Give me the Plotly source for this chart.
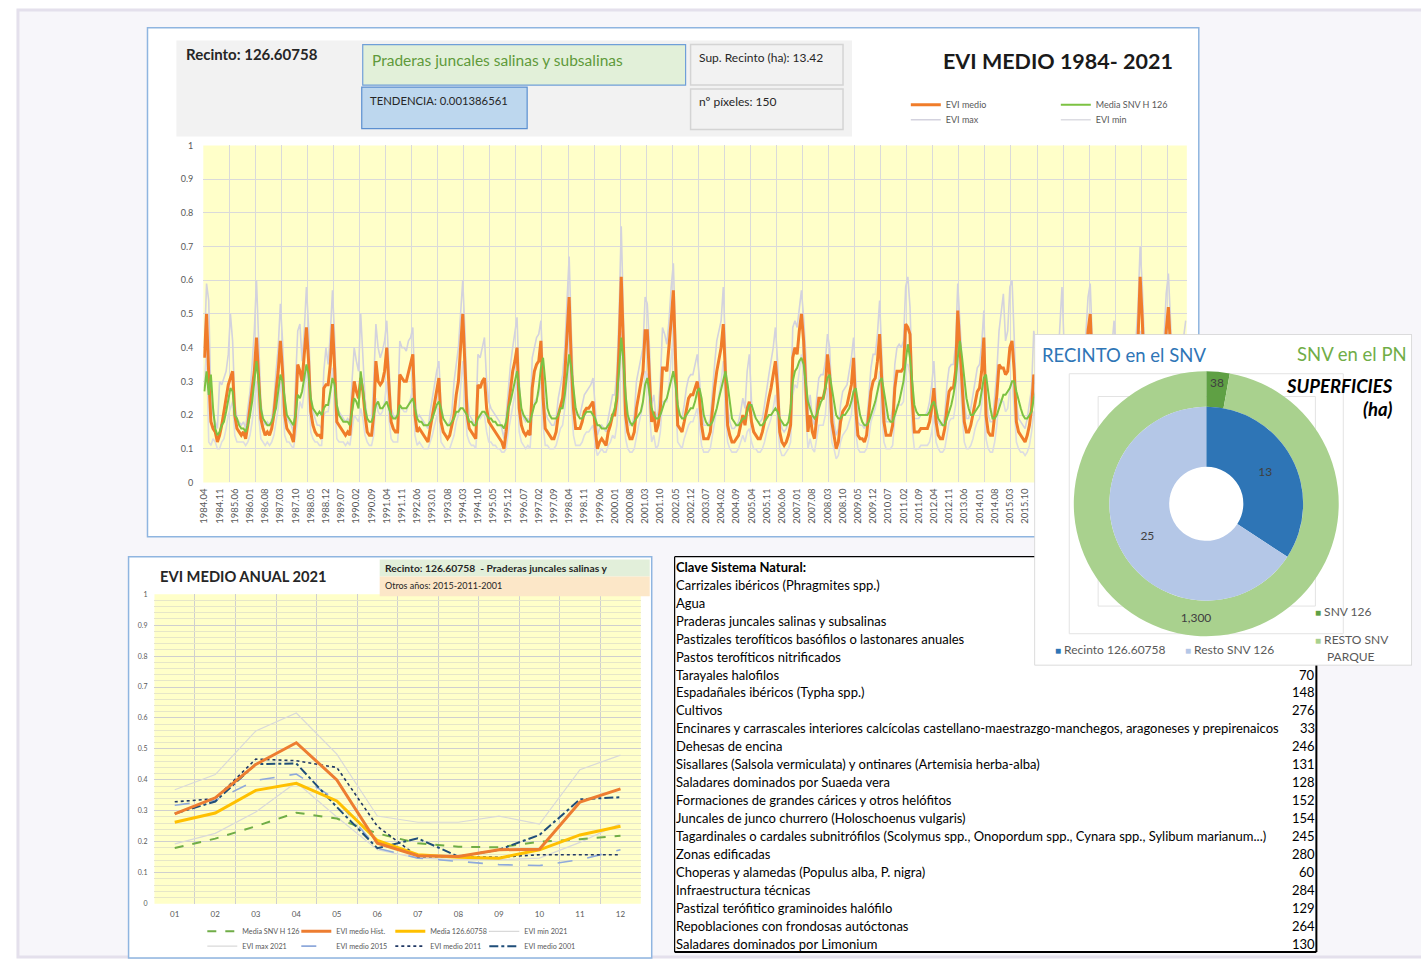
import plotly.graph_objects as go

# ======================= DATA =======================
# Monthly series 1984.04 .. 2021.12 (one row per year, Jan..Dec; 1984 starts in April)
evi_medio = [
    0.37, 0.50, 0.32, 0.18, 0.16, 0.15, 0.12, 0.14, 0.17,
    0.21, 0.25, 0.29, 0.31, 0.33, 0.20, 0.16, 0.15, 0.14, 0.15, 0.13, 0.17,
    0.22, 0.27, 0.33, 0.43, 0.30, 0.19, 0.16, 0.14, 0.15, 0.14, 0.16, 0.20,
    0.27, 0.33, 0.42, 0.33, 0.20, 0.16, 0.15, 0.14, 0.12, 0.20, 0.35, 0.33,
    0.30, 0.37, 0.46, 0.36, 0.21, 0.17, 0.15, 0.14, 0.14, 0.13, 0.28, 0.29,
    0.29, 0.35, 0.47, 0.34, 0.18, 0.17, 0.16, 0.15, 0.14, 0.15, 0.14, 0.23,
    0.30, 0.27, 0.25, 0.31, 0.27, 0.20, 0.15, 0.14, 0.14, 0.20, 0.36, 0.30,
    0.29, 0.30, 0.33, 0.40, 0.28, 0.18, 0.16, 0.15, 0.15, 0.32, 0.31, 0.30,
    0.30, 0.33, 0.35, 0.38, 0.20, 0.15, 0.16, 0.15, 0.14, 0.13, 0.12, 0.16,
    0.20, 0.24, 0.28, 0.31, 0.18, 0.15, 0.14, 0.13, 0.14, 0.17, 0.20, 0.26,
    0.30, 0.40, 0.50, 0.35, 0.20, 0.16, 0.15, 0.14, 0.13, 0.29, 0.28, 0.30,
    0.31, 0.22, 0.18, 0.17, 0.16, 0.15, 0.14, 0.13, 0.12, 0.10, 0.15, 0.22,
    0.28, 0.33, 0.36, 0.40, 0.22, 0.17, 0.15, 0.14, 0.15, 0.14, 0.28, 0.33,
    0.35, 0.36, 0.42, 0.25, 0.16, 0.15, 0.14, 0.13, 0.13, 0.15, 0.20, 0.23,
    0.25, 0.32, 0.42, 0.55, 0.35, 0.22, 0.16, 0.16, 0.16, 0.18, 0.21, 0.22,
    0.22, 0.23, 0.24, 0.16, 0.10, 0.12, 0.13, 0.12, 0.11, 0.15, 0.17, 0.20,
    0.20, 0.25, 0.40, 0.61, 0.38, 0.20, 0.15, 0.13, 0.13, 0.15, 0.22, 0.26,
    0.29, 0.33, 0.45, 0.45, 0.31, 0.18, 0.21, 0.15, 0.17, 0.22, 0.34, 0.34,
    0.33, 0.40, 0.48, 0.57, 0.35, 0.17, 0.16, 0.15, 0.18, 0.22, 0.25, 0.26,
    0.26, 0.28, 0.30, 0.25, 0.17, 0.13, 0.13, 0.13, 0.15, 0.22, 0.28, 0.33,
    0.36, 0.40, 0.47, 0.30, 0.17, 0.14, 0.12, 0.12, 0.13, 0.14, 0.17, 0.20,
    0.17, 0.22, 0.24, 0.18, 0.15, 0.14, 0.13, 0.13, 0.15, 0.18, 0.22, 0.25,
    0.28, 0.32, 0.36, 0.28, 0.15, 0.12, 0.11, 0.12, 0.14, 0.17, 0.37, 0.40,
    0.38, 0.45, 0.50, 0.42, 0.30, 0.15, 0.20, 0.15, 0.13, 0.20, 0.25, 0.25,
    0.25, 0.28, 0.38, 0.32, 0.18, 0.14, 0.10, 0.12, 0.18, 0.21, 0.22, 0.23,
    0.26, 0.29, 0.37, 0.22, 0.14, 0.13, 0.13, 0.12, 0.14, 0.20, 0.27, 0.30,
    0.31, 0.36, 0.44, 0.30, 0.18, 0.14, 0.14, 0.14, 0.17, 0.28, 0.33, 0.33,
    0.33, 0.34, 0.47, 0.46, 0.44, 0.25, 0.15, 0.15, 0.15, 0.16, 0.16, 0.16,
    0.16, 0.18, 0.22, 0.28, 0.18, 0.14, 0.13, 0.13, 0.16, 0.22, 0.27, 0.28,
    0.28, 0.33, 0.51, 0.40, 0.30, 0.18, 0.15, 0.15, 0.17, 0.20, 0.24, 0.27,
    0.28, 0.33, 0.43, 0.20, 0.15, 0.14, 0.14, 0.20, 0.26, 0.35, 0.34, 0.34,
    0.32, 0.33, 0.40, 0.42, 0.33, 0.18, 0.15, 0.14, 0.13, 0.12, 0.14, 0.17,
    0.22, 0.32, 0.30, 0.26, 0.16, 0.13, 0.12, 0.12, 0.13, 0.15, 0.18, 0.22,
    0.26, 0.32, 0.40, 0.30, 0.18, 0.14, 0.13, 0.13, 0.14, 0.16, 0.20, 0.25,
    0.28, 0.35, 0.45, 0.50, 0.32, 0.18, 0.14, 0.13, 0.13, 0.15, 0.19, 0.23,
    0.25, 0.30, 0.38, 0.28, 0.17, 0.14, 0.13, 0.13, 0.14, 0.16, 0.21, 0.27,
    0.33, 0.42, 0.61, 0.48, 0.30, 0.17, 0.14, 0.13, 0.14, 0.16, 0.22, 0.26,
    0.29, 0.34, 0.45, 0.52, 0.40, 0.20, 0.16, 0.15, 0.17, 0.18, 0.33, 0.37,
]

evi_max = [
    0.40, 0.59, 0.54, 0.24, 0.20, 0.18, 0.16, 0.30, 0.29,
    0.31, 0.33, 0.38, 0.50, 0.42, 0.24, 0.19, 0.18, 0.17, 0.18, 0.16, 0.22,
    0.27, 0.35, 0.45, 0.60, 0.40, 0.24, 0.19, 0.17, 0.18, 0.17, 0.19, 0.24,
    0.33, 0.40, 0.53, 0.42, 0.25, 0.19, 0.18, 0.17, 0.15, 0.30, 0.45, 0.47,
    0.36, 0.45, 0.58, 0.46, 0.26, 0.21, 0.19, 0.17, 0.17, 0.16, 0.33, 0.40,
    0.35, 0.44, 0.57, 0.43, 0.23, 0.21, 0.20, 0.19, 0.18, 0.19, 0.18, 0.30,
    0.40, 0.36, 0.33, 0.50, 0.38, 0.25, 0.19, 0.18, 0.18, 0.30, 0.47, 0.40,
    0.37, 0.39, 0.42, 0.48, 0.35, 0.22, 0.20, 0.19, 0.20, 0.42, 0.40, 0.40,
    0.39, 0.42, 0.43, 0.46, 0.26, 0.19, 0.20, 0.19, 0.18, 0.17, 0.16, 0.21,
    0.25, 0.30, 0.33, 0.36, 0.23, 0.19, 0.18, 0.17, 0.18, 0.21, 0.30, 0.36,
    0.40, 0.50, 0.60, 0.45, 0.26, 0.20, 0.19, 0.18, 0.17, 0.38, 0.37, 0.40,
    0.43, 0.30, 0.24, 0.22, 0.21, 0.20, 0.19, 0.18, 0.16, 0.13, 0.20, 0.29,
    0.35, 0.40, 0.45, 0.49, 0.30, 0.21, 0.19, 0.18, 0.19, 0.18, 0.37, 0.40,
    0.43, 0.44, 0.48, 0.33, 0.21, 0.19, 0.18, 0.17, 0.17, 0.19, 0.25, 0.29,
    0.32, 0.40, 0.52, 0.67, 0.45, 0.28, 0.20, 0.20, 0.20, 0.23, 0.26, 0.27,
    0.28, 0.29, 0.31, 0.22, 0.14, 0.16, 0.17, 0.16, 0.15, 0.19, 0.22, 0.26,
    0.26, 0.33, 0.50, 0.76, 0.50, 0.27, 0.19, 0.17, 0.17, 0.20, 0.30, 0.33,
    0.36, 0.40, 0.55, 0.53, 0.40, 0.23, 0.26, 0.19, 0.21, 0.30, 0.46, 0.44,
    0.41, 0.48, 0.58, 0.65, 0.44, 0.22, 0.20, 0.19, 0.23, 0.28, 0.31, 0.32,
    0.32, 0.35, 0.38, 0.31, 0.22, 0.17, 0.17, 0.17, 0.19, 0.28, 0.35, 0.42,
    0.45, 0.48, 0.58, 0.38, 0.22, 0.18, 0.16, 0.16, 0.17, 0.18, 0.21, 0.25,
    0.22, 0.33, 0.38, 0.24, 0.20, 0.19, 0.18, 0.18, 0.19, 0.23, 0.28, 0.32,
    0.36, 0.40, 0.46, 0.36, 0.20, 0.16, 0.15, 0.16, 0.18, 0.22, 0.46, 0.48,
    0.46, 0.52, 0.57, 0.49, 0.38, 0.20, 0.26, 0.19, 0.17, 0.25, 0.31, 0.32,
    0.32, 0.36, 0.44, 0.40, 0.24, 0.18, 0.14, 0.16, 0.23, 0.27, 0.28, 0.29,
    0.33, 0.37, 0.43, 0.29, 0.18, 0.17, 0.17, 0.16, 0.18, 0.25, 0.34, 0.38,
    0.38, 0.44, 0.54, 0.38, 0.24, 0.18, 0.18, 0.18, 0.22, 0.35, 0.40, 0.41,
    0.40, 0.42, 0.58, 0.61, 0.52, 0.31, 0.19, 0.19, 0.19, 0.20, 0.20, 0.20,
    0.21, 0.24, 0.29, 0.36, 0.24, 0.18, 0.17, 0.17, 0.20, 0.29, 0.34, 0.35,
    0.35, 0.41, 0.59, 0.48, 0.38, 0.24, 0.19, 0.19, 0.22, 0.26, 0.31, 0.34,
    0.35, 0.41, 0.51, 0.27, 0.20, 0.18, 0.18, 0.26, 0.33, 0.45, 0.50, 0.56,
    0.42, 0.45, 0.58, 0.60, 0.43, 0.24, 0.19, 0.18, 0.17, 0.16, 0.19, 0.23,
    0.28, 0.45, 0.40, 0.33, 0.21, 0.17, 0.16, 0.16, 0.17, 0.19, 0.23, 0.28,
    0.34, 0.45, 0.58, 0.40, 0.24, 0.18, 0.17, 0.17, 0.18, 0.21, 0.26, 0.32,
    0.36, 0.44, 0.55, 0.59, 0.40, 0.24, 0.18, 0.17, 0.17, 0.20, 0.25, 0.30,
    0.33, 0.40, 0.48, 0.37, 0.23, 0.18, 0.17, 0.17, 0.18, 0.21, 0.28, 0.36,
    0.42, 0.52, 0.70, 0.58, 0.40, 0.23, 0.18, 0.17, 0.18, 0.21, 0.29, 0.34,
    0.37, 0.42, 0.56, 0.62, 0.48, 0.28, 0.26, 0.26, 0.28, 0.26, 0.43, 0.48,
]

evi_min = [
    0.28, 0.40, 0.12, 0.11, 0.13, 0.12, 0.10, 0.10, 0.12,
    0.13, 0.16, 0.20, 0.22, 0.24, 0.14, 0.12, 0.12, 0.12, 0.12, 0.11, 0.12,
    0.14, 0.18, 0.24, 0.30, 0.20, 0.13, 0.12, 0.11, 0.12, 0.11, 0.12, 0.14,
    0.18, 0.22, 0.30, 0.24, 0.14, 0.12, 0.12, 0.11, 0.10, 0.14, 0.20, 0.24,
    0.22, 0.27, 0.34, 0.26, 0.15, 0.13, 0.12, 0.12, 0.11, 0.11, 0.20, 0.21,
    0.21, 0.25, 0.34, 0.24, 0.13, 0.12, 0.12, 0.12, 0.11, 0.12, 0.11, 0.15,
    0.20, 0.19, 0.18, 0.22, 0.19, 0.14, 0.12, 0.11, 0.11, 0.14, 0.25, 0.21,
    0.20, 0.21, 0.24, 0.30, 0.19, 0.13, 0.12, 0.12, 0.12, 0.22, 0.22, 0.21,
    0.21, 0.23, 0.25, 0.28, 0.14, 0.11, 0.12, 0.11, 0.10, 0.10, 0.10, 0.12,
    0.14, 0.17, 0.20, 0.22, 0.12, 0.11, 0.10, 0.10, 0.10, 0.12, 0.14, 0.18,
    0.20, 0.28, 0.36, 0.24, 0.14, 0.12, 0.11, 0.11, 0.10, 0.20, 0.19, 0.20,
    0.20, 0.15, 0.12, 0.12, 0.11, 0.11, 0.10, 0.10, 0.09, 0.09, 0.10, 0.15,
    0.19, 0.23, 0.26, 0.30, 0.15, 0.12, 0.11, 0.10, 0.11, 0.10, 0.20, 0.24,
    0.25, 0.26, 0.31, 0.17, 0.11, 0.11, 0.10, 0.10, 0.10, 0.11, 0.14, 0.16,
    0.17, 0.22, 0.30, 0.40, 0.24, 0.14, 0.11, 0.11, 0.11, 0.12, 0.14, 0.15,
    0.15, 0.16, 0.17, 0.11, 0.08, 0.09, 0.10, 0.09, 0.09, 0.11, 0.12, 0.14,
    0.13, 0.17, 0.28, 0.45, 0.25, 0.13, 0.10, 0.09, 0.09, 0.10, 0.14, 0.17,
    0.20, 0.23, 0.33, 0.32, 0.21, 0.12, 0.14, 0.10, 0.11, 0.15, 0.24, 0.24,
    0.24, 0.29, 0.36, 0.45, 0.25, 0.12, 0.11, 0.10, 0.13, 0.15, 0.17, 0.18,
    0.18, 0.20, 0.22, 0.17, 0.11, 0.09, 0.09, 0.09, 0.10, 0.14, 0.19, 0.23,
    0.26, 0.30, 0.36, 0.21, 0.12, 0.10, 0.09, 0.09, 0.09, 0.10, 0.12, 0.14,
    0.12, 0.15, 0.16, 0.12, 0.10, 0.10, 0.09, 0.09, 0.10, 0.12, 0.15, 0.17,
    0.19, 0.22, 0.26, 0.19, 0.10, 0.08, 0.08, 0.09, 0.10, 0.12, 0.26, 0.29,
    0.28, 0.33, 0.38, 0.31, 0.20, 0.10, 0.13, 0.10, 0.09, 0.13, 0.17, 0.17,
    0.17, 0.20, 0.28, 0.23, 0.12, 0.10, 0.07, 0.08, 0.12, 0.14, 0.15, 0.16,
    0.18, 0.20, 0.28, 0.15, 0.10, 0.09, 0.09, 0.09, 0.10, 0.13, 0.18, 0.20,
    0.22, 0.26, 0.33, 0.21, 0.12, 0.10, 0.10, 0.10, 0.11, 0.19, 0.23, 0.23,
    0.23, 0.24, 0.35, 0.35, 0.32, 0.16, 0.10, 0.10, 0.10, 0.11, 0.11, 0.11,
    0.11, 0.12, 0.15, 0.20, 0.12, 0.10, 0.09, 0.09, 0.10, 0.14, 0.18, 0.19,
    0.19, 0.23, 0.39, 0.30, 0.20, 0.12, 0.10, 0.10, 0.11, 0.13, 0.16, 0.18,
    0.19, 0.23, 0.31, 0.13, 0.10, 0.09, 0.09, 0.12, 0.17, 0.25, 0.24, 0.24,
    0.21, 0.22, 0.28, 0.30, 0.22, 0.12, 0.10, 0.09, 0.09, 0.08, 0.09, 0.11,
    0.15, 0.21, 0.20, 0.17, 0.10, 0.09, 0.08, 0.08, 0.09, 0.10, 0.12, 0.14,
    0.17, 0.21, 0.27, 0.20, 0.11, 0.09, 0.09, 0.09, 0.09, 0.11, 0.13, 0.16,
    0.18, 0.23, 0.31, 0.36, 0.21, 0.12, 0.10, 0.09, 0.09, 0.10, 0.12, 0.15,
    0.16, 0.20, 0.26, 0.18, 0.11, 0.09, 0.09, 0.09, 0.09, 0.11, 0.13, 0.17,
    0.22, 0.29, 0.45, 0.33, 0.19, 0.11, 0.09, 0.09, 0.09, 0.10, 0.14, 0.17,
    0.19, 0.23, 0.30, 0.39, 0.28, 0.17, 0.15, 0.14, 0.15, 0.15, 0.21, 0.26,
]

media_snv = [
    0.27, 0.33, 0.26, 0.32, 0.22, 0.16, 0.14, 0.15, 0.17,
    0.18, 0.21, 0.25, 0.28, 0.27, 0.20, 0.19, 0.17, 0.16, 0.16, 0.15, 0.17,
    0.20, 0.24, 0.30, 0.36, 0.30, 0.22, 0.19, 0.18, 0.17, 0.17, 0.18, 0.20,
    0.22, 0.27, 0.32, 0.30, 0.24, 0.20, 0.19, 0.18, 0.17, 0.20, 0.26, 0.25,
    0.27, 0.31, 0.35, 0.32, 0.25, 0.22, 0.21, 0.20, 0.21, 0.20, 0.22, 0.23,
    0.23, 0.27, 0.31, 0.29, 0.23, 0.20, 0.19, 0.18, 0.18, 0.18, 0.17, 0.21,
    0.25, 0.24, 0.22, 0.33, 0.28, 0.22, 0.19, 0.18, 0.18, 0.20, 0.23, 0.24,
    0.22, 0.22, 0.23, 0.24, 0.22, 0.20, 0.19, 0.19, 0.20, 0.23, 0.22, 0.22,
    0.22, 0.23, 0.24, 0.25, 0.22, 0.19, 0.18, 0.18, 0.17, 0.17, 0.17, 0.18,
    0.19, 0.21, 0.23, 0.24, 0.22, 0.19, 0.18, 0.17, 0.17, 0.18, 0.19, 0.21,
    0.21, 0.22, 0.22, 0.21, 0.20, 0.18, 0.18, 0.17, 0.17, 0.19, 0.20, 0.21,
    0.21, 0.20, 0.19, 0.19, 0.18, 0.18, 0.17, 0.17, 0.17, 0.16, 0.18, 0.22,
    0.24, 0.27, 0.30, 0.33, 0.28, 0.22, 0.20, 0.19, 0.18, 0.18, 0.21, 0.23,
    0.24, 0.28, 0.34, 0.37, 0.30, 0.22, 0.20, 0.19, 0.19, 0.19, 0.20, 0.22,
    0.22, 0.26, 0.32, 0.38, 0.34, 0.27, 0.22, 0.20, 0.19, 0.19, 0.20, 0.21,
    0.21, 0.21, 0.20, 0.19, 0.17, 0.17, 0.16, 0.16, 0.16, 0.17, 0.18, 0.20,
    0.22, 0.26, 0.33, 0.43, 0.36, 0.26, 0.20, 0.18, 0.17, 0.18, 0.19, 0.20,
    0.21, 0.24, 0.29, 0.31, 0.27, 0.22, 0.20, 0.19, 0.19, 0.20, 0.22, 0.24,
    0.25, 0.28, 0.31, 0.33, 0.29, 0.23, 0.20, 0.19, 0.19, 0.20, 0.21, 0.22,
    0.22, 0.24, 0.27, 0.28, 0.25, 0.20, 0.18, 0.17, 0.17, 0.18, 0.20, 0.22,
    0.25, 0.28, 0.31, 0.33, 0.29, 0.23, 0.19, 0.18, 0.17, 0.17, 0.18, 0.19,
    0.19, 0.21, 0.23, 0.23, 0.21, 0.19, 0.18, 0.17, 0.17, 0.18, 0.19, 0.20,
    0.20, 0.21, 0.22, 0.21, 0.19, 0.18, 0.17, 0.17, 0.18, 0.22, 0.30, 0.33,
    0.34, 0.36, 0.37, 0.35, 0.30, 0.24, 0.22, 0.20, 0.19, 0.20, 0.22, 0.24,
    0.25, 0.28, 0.31, 0.32, 0.28, 0.23, 0.20, 0.19, 0.19, 0.20, 0.20, 0.21,
    0.22, 0.24, 0.27, 0.28, 0.24, 0.20, 0.18, 0.17, 0.17, 0.18, 0.20, 0.22,
    0.24, 0.27, 0.30, 0.31, 0.27, 0.22, 0.19, 0.18, 0.18, 0.20, 0.22, 0.24,
    0.27, 0.30, 0.36, 0.41, 0.37, 0.29, 0.23, 0.21, 0.20, 0.20, 0.20, 0.20,
    0.20, 0.21, 0.23, 0.24, 0.22, 0.19, 0.18, 0.17, 0.17, 0.19, 0.21, 0.23,
    0.26, 0.30, 0.37, 0.42, 0.37, 0.30, 0.25, 0.22, 0.20, 0.20, 0.21, 0.22,
    0.23, 0.27, 0.31, 0.32, 0.27, 0.22, 0.19, 0.19, 0.20, 0.22, 0.24, 0.26,
    0.26, 0.27, 0.28, 0.30, 0.30, 0.27, 0.24, 0.22, 0.20, 0.19, 0.19, 0.20,
    0.21, 0.25, 0.27, 0.26, 0.23, 0.20, 0.18, 0.17, 0.17, 0.18, 0.19, 0.20,
    0.22, 0.25, 0.29, 0.31, 0.27, 0.22, 0.19, 0.18, 0.17, 0.18, 0.19, 0.21,
    0.23, 0.27, 0.32, 0.35, 0.31, 0.25, 0.21, 0.19, 0.18, 0.18, 0.19, 0.21,
    0.22, 0.25, 0.28, 0.29, 0.26, 0.21, 0.19, 0.18, 0.17, 0.18, 0.20, 0.22,
    0.25, 0.29, 0.36, 0.40, 0.35, 0.27, 0.22, 0.20, 0.19, 0.19, 0.20, 0.21,
    0.18, 0.21, 0.25, 0.29, 0.28, 0.23, 0.20, 0.18, 0.18, 0.20, 0.21, 0.22,
]

# Annual chart 2021
months = ["01", "02", "03", "04", "05", "06", "07", "08", "09", "10", "11", "12"]
a_media_snv = [0.18, 0.21, 0.25, 0.294, 0.275, 0.227, 0.195, 0.184, 0.182, 0.20, 0.208, 0.219]
a_evi_hist = [0.29, 0.342, 0.45, 0.52, 0.40, 0.195, 0.155, 0.152, 0.174, 0.176, 0.328, 0.371]
a_media_recinto = [0.263, 0.293, 0.366, 0.389, 0.332, 0.204, 0.158, 0.150, 0.147, 0.174, 0.222, 0.25]
a_min_2021 = [0.193, 0.227, 0.296, 0.392, 0.28, 0.174, 0.147, 0.142, 0.142, 0.147, 0.198, 0.259]
a_max_2021 = [0.368, 0.417, 0.558, 0.616, 0.483, 0.283, 0.263, 0.263, 0.283, 0.257, 0.433, 0.48]
a_evi_2015 = [0.318, 0.334, 0.398, 0.419, 0.334, 0.179, 0.147, 0.136, 0.126, 0.123, 0.142, 0.174]
a_evi_2011 = [0.329, 0.339, 0.467, 0.462, 0.44, 0.25, 0.152, 0.150, 0.150, 0.158, 0.158, 0.158]
a_evi_2001 = [0.291, 0.33, 0.451, 0.453, 0.312, 0.179, 0.211, 0.152, 0.174, 0.222, 0.337, 0.344]

# Donut (ha)
inner_labels = ["Recinto 126.60758", "Resto SNV 126"]
inner_values = [13, 25]
outer_labels = ["SNV 126", "RESTO SNV PARQUE"]
outer_values = [38, 1300]

# Table
table_names = [
    "Carrizales ibéricos (Phragmites spp.)",
    "Agua",
    "Praderas juncales salinas y subsalinas",
    "Pastizales terofíticos basófilos o lastonares anuales",
    "Pastos terofíticos nitrificados",
    "Tarayales halofilos",
    "Espadañales ibéricos (Typha spp.)",
    "Cultivos",
    "Encinares y carrascales interiores calcícolas castellano-maestrazgo-manchegos, aragoneses y prepirenaicos",
    "Dehesas de encina",
    "Sisallares (Salsola vermiculata) y ontinares (Artemisia herba-alba)",
    "Saladares dominados por Suaeda vera",
    "Formaciones de grandes cárices y otros helófitos",
    "Juncales de junco churrero (Holoschoenus vulgaris)",
    "Tagardinales o cardales subnitrófilos (Scolymus spp., Onopordum spp., Cynara spp., Sylibum marianum...)",
    "Zonas edificadas",
    "Choperas y alamedas (Populus alba, P. nigra)",
    "Infraestructura técnicas",
    "Pastizal terófitico graminoides halófilo",
    "Repoblaciones con frondosas autóctonas",
    "Saladares dominados por Limonium",
]
table_values = [None, None, None, None, None,
                70, 148, 276, 33, 246, 131, 128, 152, 154, 245, 280, 60, 284, 129, 264, 130]

# period labels
periods = [f"{y}.{m:02d}" for y in range(1984, 2022) for m in range(1, 13) if (y, m) >= (1984, 4)]
assert len(periods) == len(evi_medio) == len(evi_max) == len(evi_min) == len(media_snv)

# ======================= LAYOUT HELPERS =======================
W, H = 1421, 963
FONT = "Lato, 'Open Sans', sans-serif"
YELLOW = "#FFFFC9"
GRID = "#DADADA"


def fx(x):
    return x / W


def fy(y):
    return 1 - y / H


shapes = []
annotations = []


def rect(x0, y0, x1, y1, fill="rgba(0,0,0,0)", line="rgba(0,0,0,0)", lw=1, layer="below"):
    shapes.append(dict(type="rect", xref="paper", yref="paper", x0=fx(x0), x1=fx(x1),
                       y0=fy(y1), y1=fy(y0), fillcolor=fill, line=dict(color=line, width=lw), layer=layer))


def hline(x0, x1, y, color="#000", lw=1, layer="below"):
    shapes.append(dict(type="line", xref="paper", yref="paper", x0=fx(x0), x1=fx(x1),
                       y0=fy(y), y1=fy(y), line=dict(color=color, width=lw), layer=layer))


def vline(x, y0, y1, color="#000", lw=1, layer="below"):
    shapes.append(dict(type="line", xref="paper", yref="paper", x0=fx(x), x1=fx(x),
                       y0=fy(y0), y1=fy(y1), line=dict(color=color, width=lw), layer=layer))


def text(x, y, s, size, color="#262626", anchor="left"):
    annotations.append(dict(x=fx(x), y=fy(y), xref="paper", yref="paper", text=s, showarrow=False,
                            xanchor=anchor, yanchor="middle", font=dict(family=FONT, size=size, color=color)))


# plot-area rectangles
TOP_PLOT = (199, 141, 1186, 482)
ANN_PLOT = (150, 595, 638, 908)

# background frame
rect(13, 4, 1425, 962, fill="#F7F6FA", line="#E4E0EC", lw=3)
# top panel
rect(143, 22, 1198, 537, fill="white", line="#8FB5E0", lw=1.5)
rect(*TOP_PLOT, fill=YELLOW)
# header
rect(172, 35, 850, 132, fill="#F2F2F2")
rect(359, 39, 683, 80, fill="#E2F0D9", line="#6F9FD8", lw=1.2)
rect(358, 82, 524, 124, fill="#BDD7EE", line="#5B8FD0", lw=1.2)
rect(688, 39, 841, 80, fill="#F2F2F2", line="#D4D4D4", lw=1.5)
rect(688, 84, 841, 125, fill="#F2F2F2", line="#D4D4D4", lw=1.5)
# bottom-left panel
rect(124, 557, 649, 963, fill="white", line="#8FB5E0", lw=1.5)
rect(*ANN_PLOT, fill=YELLOW)
rect(376, 560, 647, 577, fill="#E2EFDA", layer="above")
rect(376, 577, 647, 597, fill="#FCE7C8", layer="above")
# table
rect(672, 557, 1316, 957, fill="white")
vline(672, 557, 957, lw=1.2)
hline(672, 1060, 557, lw=1.2)
vline(1316, 557, 957, lw=2)
hline(672, 1316, 957, lw=2)

# header texts
text(180, 49, "<b>Recinto: 126.60758</b>", 15)
text(366, 55, "Praderas juncales salinas y subsalinas", 15.5, color="#5F9A3B")
text(364, 96, "TENDENCIA: 0.001386561", 11.3)
text(694, 52, "Sup. Recinto (ha): 13.42", 12)
text(694, 97, "nº píxeles: 150", 12)
text(939, 56, "<b>EVI MEDIO 1984- 2021</b>", 21.5, color="#1A1A1A")

# bottom-left texts
text(154, 577, "<b>EVI MEDIO ANUAL 2021</b>", 14.7)
text(379, 568, "<b>Recinto: 126.60758  - Praderas juncales salinas y</b>", 10.3)
text(379, 586, "Otros años: 2015-2011-2001", 9)

# table texts
TFS = 13
text(671, 567, "<b>Clave Sistema Natural:</b>", TFS, color="#000")
for i, (nm, val) in enumerate(zip(table_names, table_values)):
    yy = 585.5 + 18.15 * i
    text(671, yy, nm, TFS, color="#000")
    if val is not None:
        text(1317, yy, str(val), TFS, color="#000", anchor="right")

# donut panel texts
text(1039, 353, "RECINTO en el SNV", 18.5, color="#2E75B6")
text(1409, 352, "SNV en el PN", 18.5, color="#70AD47", anchor="right")
text(1395, 384, "<b><i>SUPERFICIES</i></b>", 18.5, color="#000", anchor="right")
text(1395, 408, "<b><i>(ha)</i></b>", 18.5, color="#000", anchor="right")
INNER_COLORS = ["#2E75B6", "#B4C7E7"]
OUTER_COLORS = ["#5FA044", "#A9D18E"]
text(1052, 651, f"<span style='color:{INNER_COLORS[0]};font-size:10px'>■</span> {inner_labels[0]}", 12, color="#595959")
text(1182, 651, f"<span style='color:{INNER_COLORS[1]};font-size:10px'>■</span> {inner_labels[1]}", 12, color="#595959")
text(1313, 613, f"<span style='color:{OUTER_COLORS[0]};font-size:10px'>■</span> {outer_labels[0]}", 12, color="#595959")
text(1313, 641, f"<span style='color:{OUTER_COLORS[1]};font-size:10px'>■</span> RESTO SNV", 12, color="#595959")
text(1325, 658, "PARQUE", 12, color="#595959")

# ======================= FIGURE =======================
fig = go.Figure()
xi = list(range(len(periods)))
GRAYL = "#D3D2DE"

fig.add_trace(go.Scatter(x=xi, y=evi_max, name="EVI max", mode="lines", customdata=periods,
                         line=dict(color=GRAYL, width=1.6), legend="legend3", xaxis="x", yaxis="y"))
fig.add_trace(go.Scatter(x=xi, y=evi_min, name="EVI min", mode="lines", customdata=periods,
                         line=dict(color="#DCDCE2", width=1.6), legend="legend3", xaxis="x", yaxis="y"))
fig.add_trace(go.Scatter(x=xi, y=evi_medio, name="EVI medio", mode="lines", customdata=periods,
                         line=dict(color="#F07C2A", width=3), legend="legend", xaxis="x", yaxis="y"))
fig.add_trace(go.Scatter(x=xi, y=media_snv, name="Media SNV H 126", mode="lines", customdata=periods,
                         line=dict(color="#7CC242", width=2), legend="legend", xaxis="x", yaxis="y"))

# annual chart
mi = list(range(12))
ann = [
    ("EVI min 2021", a_min_2021, dict(color="#D9D9D9", width=1.2), "legend2", 4),
    ("EVI max 2021", a_max_2021, dict(color="#D9D9D9", width=1.2), "legend4", 1),
    ("Media SNV H 126", a_media_snv, dict(color="#70AD47", width=2, dash="dash"), "legend2", 1),
    ("EVI medio 2015", a_evi_2015, dict(color="#8EA9DB", width=1.6, dash="longdash"), "legend4", 2),
    ("EVI medio 2011", a_evi_2011, dict(color="#203864", width=1.6, dash="dot"), "legend4", 3),
    ("EVI medio 2001", a_evi_2001, dict(color="#1F4E79", width=2, dash="dashdot"), "legend4", 4),
    ("Media 126.60758 -", a_media_recinto, dict(color="#FFC000", width=3), "legend2", 3),
    ("EVI medio Hist.", a_evi_hist, dict(color="#ED7D31", width=3), "legend2", 2),
]
for nm, vals, ln, lg, rk in ann:
    fig.add_trace(go.Scatter(x=mi, y=vals, name=nm, mode="lines", line=ln, legend=lg, legendrank=rk,
                             xaxis="x2", yaxis="y2"))

# donut panel cover (drawn above main chart, below pies)
PX0, PX1, PY0, PY1 = 1033, 1412, 332, 667


def pfx(x):
    return (x - PX0) / (PX1 - PX0)


def pfy(y):
    return (PY1 - y) / (PY1 - PY0)


fig.add_trace(go.Scatter(x=[0, 1, 1, 0, 0], y=[0, 0, 1, 1, 0], mode="lines", fill="toself",
                         fillcolor="white", line=dict(color="#D0D0D0", width=1.5), cliponaxis=False,
                         showlegend=False, xaxis="x3", yaxis="y3"))
for (bx0, by0, bx1, by1) in [(1068, 372, 1343, 635), (1097, 395, 1315, 607)]:
    fig.add_trace(go.Scatter(x=[pfx(bx0), pfx(bx1), pfx(bx1), pfx(bx0), pfx(bx0)],
                             y=[pfy(by0), pfy(by0), pfy(by1), pfy(by1), pfy(by0)], mode="lines",
                             line=dict(color="#E3E3E3", width=1), showlegend=False, xaxis="x3", yaxis="y3"))

CX, CY, R_OUT, R_IN, R_HOLE = 1205.5, 503.5, 134, 98, 37.5
fig.add_trace(go.Pie(values=outer_values, labels=outer_labels, hole=R_IN / R_OUT, sort=False,
                     direction="clockwise", rotation=0, marker=dict(colors=OUTER_COLORS, line=dict(width=0)),
                     textinfo="value", texttemplate="%{value:,}", textposition="inside",
                     insidetextorientation="horizontal", textfont=dict(size=12, color="#404040", family=FONT),
                     domain=dict(x=[fx(CX - R_OUT), fx(CX + R_OUT)], y=[fy(CY + R_OUT), fy(CY - R_OUT)]),
                     showlegend=False))
fig.add_trace(go.Pie(values=inner_values, labels=inner_labels, hole=R_HOLE / R_IN, sort=False,
                     direction="clockwise", rotation=0, marker=dict(colors=INNER_COLORS, line=dict(width=0)),
                     textinfo="value", texttemplate="%{value:,}", textposition="inside",
                     insidetextorientation="horizontal", textfont=dict(size=12, color="#404040", family=FONT),
                     domain=dict(x=[fx(CX - R_IN), fx(CX + R_IN)], y=[fy(CY + R_IN), fy(CY - R_IN)]),
                     showlegend=False))

tickidx = list(range(0, len(periods), 7))


def leg(x, y, size, ew):
    return dict(orientation="h", x=fx(x), y=fy(y), xanchor="left", yanchor="middle",
                entrywidth=ew, entrywidthmode="pixels", bgcolor="rgba(0,0,0,0)",
                font=dict(family=FONT, size=size, color="#595959"), itemclick=False,
                itemdoubleclick=False, traceorder="normal", tracegroupgap=0)


fig.update_layout(
    width=W, height=H, autosize=False, margin=dict(l=0, r=0, t=0, b=0, pad=0),
    paper_bgcolor="white", plot_bgcolor="rgba(0,0,0,0)", hovermode=False,
    font=dict(family=FONT, color="#404040"),
    uniformtext=dict(mode="show", minsize=12),
    xaxis=dict(domain=[fx(TOP_PLOT[0]), fx(TOP_PLOT[2])], range=[-0.5, len(periods) - 0.5], anchor="y",
               tickmode="array", tickvals=tickidx, ticktext=[periods[i] for i in tickidx],
               tickangle=-90, tickfont=dict(size=9.5, color="#595959", family=FONT),
               showgrid=False, zeroline=False, showline=False, ticks="", ticklabelstandoff=3,
               minor=dict(tick0=-0.5, dtick=12, showgrid=True, gridcolor=GRID, gridwidth=1)),
    yaxis=dict(domain=[fy(TOP_PLOT[3]), fy(TOP_PLOT[1])], range=[0, 1], anchor="x", dtick=0.1,
               tickfont=dict(size=9, color="#595959", family=FONT), gridcolor=GRID,
               zeroline=False, showline=False, ticklabelstandoff=9),
    xaxis2=dict(domain=[fx(ANN_PLOT[0]), fx(ANN_PLOT[2])], range=[-0.5, 11.5], anchor="y2",
                tickmode="array", tickvals=mi, ticktext=months,
                tickfont=dict(size=8, color="#595959", family=FONT), showgrid=False, zeroline=False,
                showline=False, ticks="", ticklabelstandoff=4,
                minor=dict(tick0=-0.5, dtick=1, showgrid=True, gridcolor="#D0D0D0", gridwidth=1)),
    yaxis2=dict(domain=[fy(ANN_PLOT[3]), fy(ANN_PLOT[1])], range=[0, 1], anchor="x2", dtick=0.1,
                tickfont=dict(size=7, color="#595959", family=FONT), gridcolor="#CFCFCF",
                zeroline=False, showline=False, ticklabelstandoff=6,
                minor=dict(dtick=0.02, showgrid=True, gridcolor="#E6E6C8", gridwidth=1)),
    xaxis3=dict(domain=[fx(PX0), fx(PX1)], range=[0, 1], anchor="y3", visible=False, fixedrange=True),
    yaxis3=dict(domain=[fy(PY1), fy(PY0)], range=[0, 1], anchor="x3", visible=False, fixedrange=True),
    legend=leg(904, 100, 9, 105),
    legend3=leg(904, 115, 9, 105),
    legend2=leg(198, 936, 7.2, 49),
    legend4=leg(198, 951, 7.2, 49),
    shapes=shapes,
    annotations=annotations,
)

fig.write_html("out.html", config={"displayModeBar": False},
               post_script="document.body.style.margin='0px';document.body.style.overflow='hidden';")
